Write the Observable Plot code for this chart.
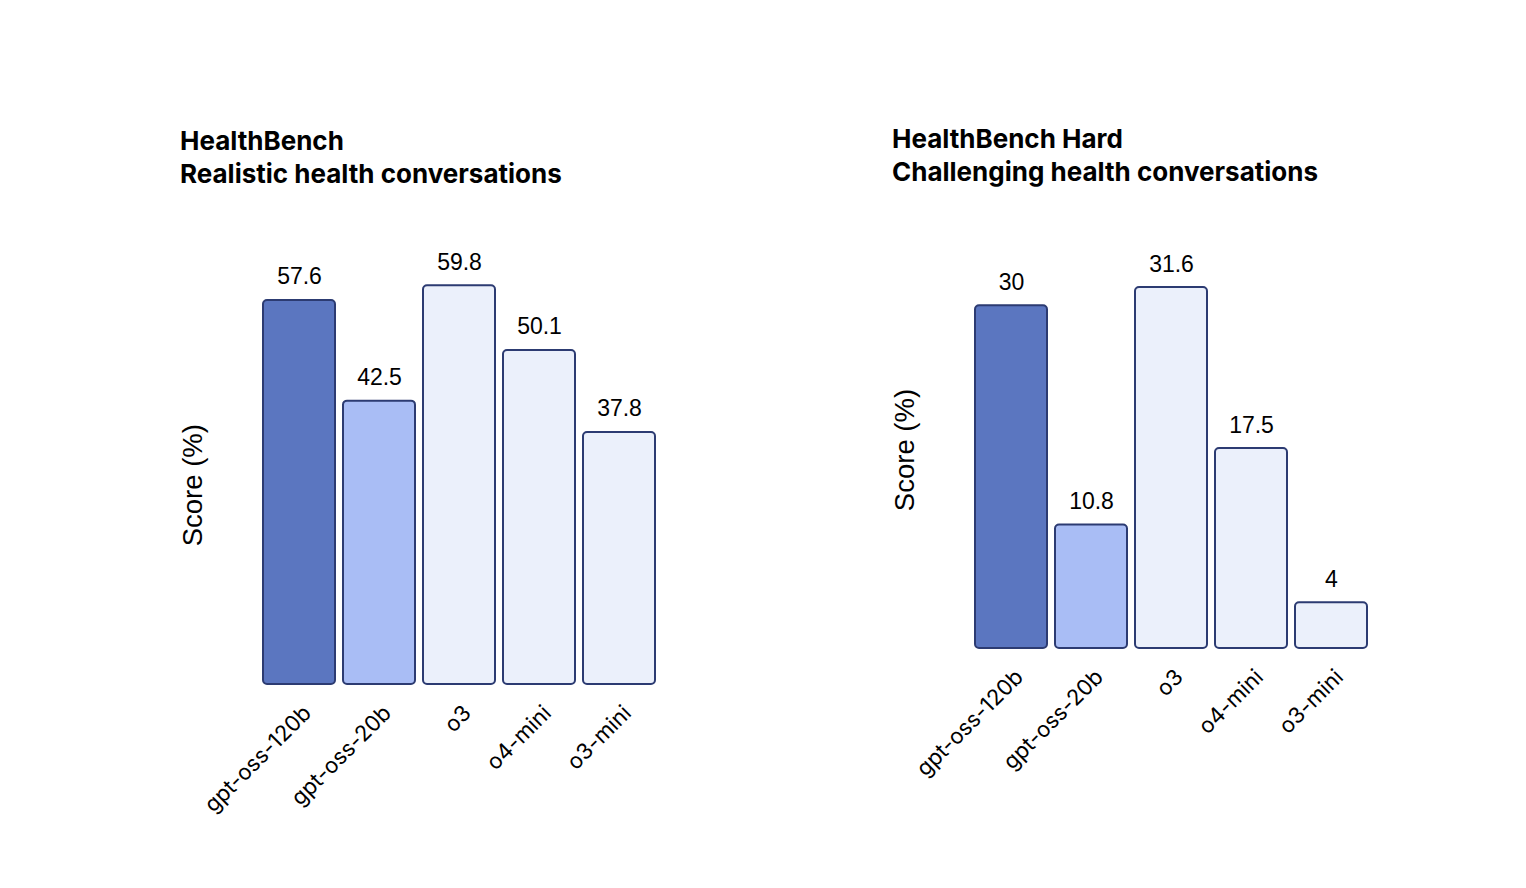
<!DOCTYPE html>
<html>
<head>
<meta charset="utf-8">
<script src="https://cdn.jsdelivr.net/npm/d3@7"></script>
<script src="https://cdn.jsdelivr.net/npm/@observablehq/plot@0.6"></script>
<style>
  html, body { margin: 0; padding: 0; background: #fff; }
  #page { position: relative; width: 1526px; height: 888px; overflow: hidden; }
  .title { position: absolute; font-family: Inter, "Noto Sans", sans-serif; font-weight: 700; font-size: 26px; line-height: 33px; color: #000; white-space: nowrap; }
  .chart { position: absolute; }
</style>
</head>
<body>
<div id="page">
  <div class="title" id="t1" style="left:180px; top:124px;"></div>
  <div class="title" id="t2" style="left:892px; top:122px;"></div>
  <div class="chart" id="c1" style="left:160px; top:230px;"></div>
  <div class="chart" id="c2" style="left:872px; top:230px;"></div>
</div>
<script>
const models = ["gpt-oss-120b", "gpt-oss-20b", "o3", "o4-mini", "o3-mini"];
const healthBench = [57.6, 42.5, 59.8, 50.1, 37.8];
const healthBenchHard = [30, 10.8, 31.6, 17.5, 4];
const fills = ["#5b76c0", "#a9bdf5", "#ebf0fb", "#ebf0fb", "#ebf0fb"];
const titles = [
  ["HealthBench", "Realistic health conversations"],
  ["HealthBench Hard", "Challenging health conversations"]
];
const yLabel = "Score (%)";

document.getElementById("t1").innerHTML = titles[0].join("<br>");
document.getElementById("t2").innerHTML = titles[1].join("<br>");

function makeChart(values, opts) {
  const data = models.map((m, i) => ({model: m, value: values[i], fill: fills[i]}));
  const plotH = opts.plotH;
  return Plot.plot({
    width: 99 + 400 + 20,
    height: opts.marginTop + plotH + opts.marginBottom,
    marginLeft: 99,
    marginRight: 20,
    marginTop: opts.marginTop,
    marginBottom: opts.marginBottom,
    style: {fontFamily: "'Liberation Sans', Arial, sans-serif", background: "#fff", overflow: "visible"},
    x: {domain: models, paddingInner: 0.1, paddingOuter: 0.05, label: null},
    y: {domain: [0, d3.max(values)], axis: null},
    marks: [
      Plot.barY(data, {x: "model", y: "value", fill: "fill", stroke: "#2c3b72", strokeWidth: 2, rx: 4}),
      Plot.text(data, {x: "model", y: "value", text: d => String(d.value), lineAnchor: "bottom", dy: -16, fontSize: 23, fill: "#000"}),
      Plot.axisX({tickSize: 0, tickRotate: -45, tickPadding: 25, dx: 8, fontSize: 22, fontFamily: "Inter, 'Noto Sans', sans-serif", fill: "#000", label: null}),
      Plot.text([yLabel], {frameAnchor: "left", textAnchor: "middle", rotate: -90, dx: -66, dy: opts.labelDy, fontSize: 27.5, fill: "#000", text: d => d})
    ]
  });
}

document.getElementById("c1").appendChild(makeChart(healthBench, {marginTop: 55.3, plotH: 398.7, marginBottom: 150, labelDy: 0}));
document.getElementById("c2").appendChild(makeChart(healthBenchHard, {marginTop: 57, plotH: 361, marginBottom: 186, labelDy: -18}));
</script>
</body>
</html>
